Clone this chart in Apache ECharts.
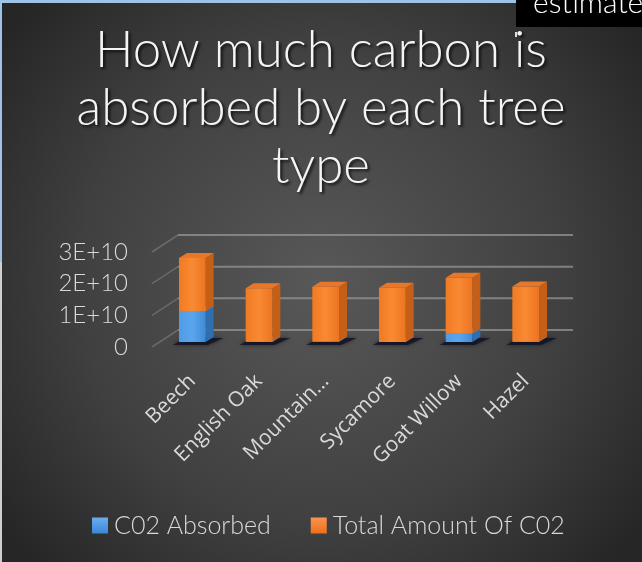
<!DOCTYPE html>
<html>
<head>
<meta charset="utf-8">
<script src="https://cdn.jsdelivr.net/npm/echarts@6/dist/echarts.min.js"></script>
<style>html,body{margin:0;padding:0;background:#9dc3e6;}#c{width:642px;height:562px;}</style>
</head>
<body>
<div id="c"></div>
<script>
// ---- data ----
const categories = ['Beech', 'English Oak', 'Mountain…', 'Sycamore', 'Goat Willow', 'Hazel'];
const co2Absorbed = [9.8e9, 0.05e9, 0.12e9, 0.03e9, 2.7e9, 0.05e9];
const totalAmountOfCO2 = [1.67e10, 1.69e10, 1.73e10, 1.71e10, 1.76e10, 1.75e10];
const yTicks = [0, 1e10, 2e10, 3e10];
const yTickLabels = ['0', '1E+10', '2E+10', '3E+10'];
const seriesNames = ['C02 Absorbed', 'Total Amount Of C02'];
const titleText = 'How much carbon is\nabsorbed by each tree\ntype';

const chart = echarts.init(document.getElementById('c'), null, {renderer: 'canvas'});

const blueFront = new echarts.graphic.LinearGradient(0, 0, 1, 0, [
  {offset: 0, color: '#4f9be6'}, {offset: 0.5, color: '#5aa6ee'}, {offset: 1, color: '#3f8ad6'}]);
const orangeFront = new echarts.graphic.LinearGradient(0, 0, 1, 0, [
  {offset: 0, color: '#f07a22'}, {offset: 0.5, color: '#f98a33'}, {offset: 1, color: '#ec7420'}]);
const palette = [
  {front: blueFront, side: '#2f6fae', top: '#5ea8ec', legend: new echarts.graphic.LinearGradient(0,0,0,1,[{offset:0,color:'#6aaef0'},{offset:1,color:'#3b86d4'}])},
  {front: orangeFront, side: '#c55e16', top: '#e8772a', legend: new echarts.graphic.LinearGradient(0,0,0,1,[{offset:0,color:'#fb9350'},{offset:1,color:'#ec6f1c'}])}
];

const DX = 8, DY = -5;

function cubeRenderer(idx) {
  return function (params, api) {
    const c = api.value(0), lo = api.value(1), hi = api.value(2);
    const band = api.size([1, 0])[0];
    const w = band * 0.40;
    const pLo = api.coord([c, lo]);
    const pHi = api.coord([c, hi]);
    const x0 = pLo[0] - w / 2, x1 = pLo[0] + w / 2;
    const yb = pLo[1], yt = pHi[1];
    const col = palette[idx];
    const children = [];
    if (idx === 0) {
      children.push({
        type: 'polygon',
        shape: {points: [[x0 - 6, yb + 3], [x1 + 2, yb + 3], [x1 + DX + 10, yb - 4], [x0 + DX - 2, yb - 4]]},
        style: {fill: 'rgba(18,20,38,0.85)', shadowBlur: 4, shadowColor: 'rgba(0,0,0,0.6)'}
      });
    }
    if (yb - yt > 0.01) {
      children.push({
        type: 'polygon',
        shape: {points: [[x1, yt], [x1 + DX, yt + DY], [x1 + DX, yb + DY], [x1, yb]]},
        style: {fill: col.side}
      });
      children.push({
        type: 'rect',
        shape: {x: x0, y: yt, width: w, height: yb - yt},
        style: {fill: col.front}
      });
      children.push({
        type: 'polygon',
        shape: {points: [[x0, yt], [x0 + DX, yt + DY], [x1 + DX, yt + DY], [x1, yt]]},
        style: {fill: col.top}
      });
    }
    return {type: 'group', children: children};
  };
}

function gridRenderer(params, api) {
  const v = api.value(1);
  const band = api.size([1, 0])[0];
  const L = api.coord([0, v])[0] - band / 2;
  const R = api.coord([categories.length - 1, v])[0] + band / 2;
  const y = api.coord([0, v])[1];
  return {
    type: 'group',
    children: [
      {type: 'line', shape: {x1: L - 7, y1: y + 5, x2: L + 19, y2: y - 12},
        style: {stroke: 'rgba(170,170,170,0.35)', lineWidth: 1.5}},
      {type: 'line', shape: {x1: L + 19, y1: y - 12, x2: R + 14, y2: y - 12},
        style: {stroke: 'rgba(150,150,150,0.75)', lineWidth: 2}}
    ]
  };
}

const blueData = categories.map((c, i) => [i, 0, co2Absorbed[i]]);
const orangeData = categories.map((c, i) => [i, co2Absorbed[i], co2Absorbed[i] + totalAmountOfCO2[i]]);

const option = {
  backgroundColor: '#9dc3e6',
  animation: false,
  graphic: [
    {type: 'rect', z: -100, shape: {x: 2, y: 3, width: 640, height: 559},
      style: {fill: new echarts.graphic.RadialGradient(0.5, 0.5, 0.72, [
        {offset: 0, color: '#585858'}, {offset: 0.6, color: '#404040'}, {offset: 1, color: '#262626'}])}},
    {type: 'rect', z: -99, shape: {x: 0, y: 262, width: 2, height: 300}, style: {fill: '#cfcfcf'}},
    {type: 'rect', z: 100, shape: {x: 516, y: 0, width: 126, height: 27}, style: {fill: '#000000'}},
    {type: 'text', z: 101, style: {x: 533, y: 18, text: 'estimate', fill: '#ffffff', font: '300 30px Lato', verticalAlign: 'bottom'}},
    {type: 'rect', z: 101, shape: {x: 515, y: 32, width: 2, height: 5}, style: {fill: '#e0e0e0'}}
  ],
  title: {
    text: titleText,
    left: 321,
    top: 22,
    padding: 0,
    textAlign: 'center',
    textStyle: {
      color: '#f4f4f4', fontSize: 51, fontWeight: 300, fontFamily: 'Lato',
      lineHeight: 58,
      textShadowColor: 'rgba(0,0,0,0.8)', textShadowBlur: 3, textShadowOffsetX: 2, textShadowOffsetY: 2
    }
  },
  legend: {
    data: seriesNames.map((n, i) => ({name: n, itemStyle: {color: palette[i].legend}})),
    left: 87, top: 508,
    icon: 'rect', itemWidth: 16, itemHeight: 16, itemGap: 40,
    textStyle: {color: '#d9d9d9', fontSize: 25, fontWeight: 300, fontFamily: 'Lato', padding: [0, 0, 0, 1]}
  },
  grid: {left: 159, right: 83, top: 247, bottom: 220, containLabel: false},
  xAxis: {
    type: 'category', data: categories,
    axisLine: {show: false}, axisTick: {show: false},
    axisLabel: {interval: 0, rotate: 45, margin: 36, color: '#d9d9d9', fontSize: 21, fontFamily: 'Open Sans'}
  },
  yAxis: {
    type: 'value', min: 0, max: 3e10, interval: 1e10,
    splitLine: {show: false}, axisLine: {show: false}, axisTick: {show: false},
    axisLabel: {
      margin: 31, color: '#d9d9d9',
      formatter: function (v) { const k = yTicks.indexOf(v); return k >= 0 ? '{t|' + yTickLabels[k] + '}' : ''; },
      rich: {t: {color: '#d9d9d9', fontSize: 24, fontWeight: 300, fontFamily: 'Lato', padding: [10, 0, 0, 0]}}
    }
  },
  series: [
    {type: 'custom', name: '_grid', renderItem: gridRenderer, data: yTicks.map(v => [0, v]),
      encode: {x: 0, y: 1}, z: 1, silent: true},
    {type: 'custom', name: seriesNames[0], renderItem: cubeRenderer(0), data: blueData,
      encode: {x: 0, y: [1, 2]}, itemStyle: {color: '#4a96e0'}, z: 2},
    {type: 'custom', name: seriesNames[1], renderItem: cubeRenderer(1), data: orangeData,
      encode: {x: 0, y: [1, 2]}, itemStyle: {color: '#f07c2a'}, z: 3}
  ]
};
chart.setOption(option);
</script>
</body>
</html>
